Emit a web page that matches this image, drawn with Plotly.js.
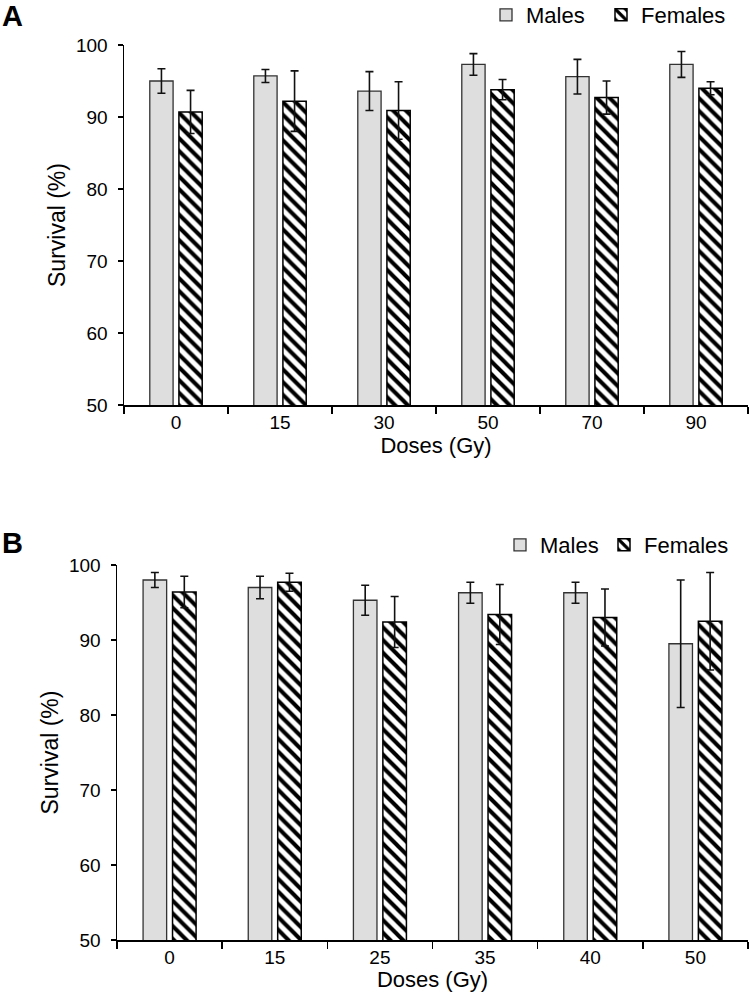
<!DOCTYPE html>
<html>
<head>
<meta charset="utf-8">
<script src="https://cdn.plot.ly/plotly-3.0.1.min.js"></script>
<style>html,body{margin:0;padding:0;background:#fff;}#chart{width:750px;height:992px;}</style>
</head>
<body>
<div id="chart"></div>
<script>
// Panel A data
const dosesA = ['0', '15', '30', '50', '70', '90'];
const malesA = [95.0, 95.7, 93.6, 97.3, 95.6, 97.3];
const malesAErr = [1.7, 0.9, 2.7, 1.5, 2.4, 1.8];
const femalesA = [90.7, 92.2, 90.9, 93.8, 92.7, 94.0];
const femalesAErr = [3.0, 4.2, 4.0, 1.4, 2.3, 0.9];

// Panel B data
const dosesB = ['0', '15', '25', '35', '40', '50'];
const malesB = [98.0, 97.0, 95.3, 96.3, 96.3, 89.5];
const malesBErr = [1.0, 1.5, 2.0, 1.4, 1.4, 8.5];
const femalesB = [96.4, 97.7, 92.4, 93.4, 93.0, 92.5];
const femalesBErr = [2.1, 1.2, 3.4, 4.0, 3.8, 6.5];

const seriesNames = ['Males', 'Females'];

const FONT = 'Liberation Sans, Arial, Helvetica, sans-serif';
const W = 750, H = 992;
const px = v => v / W;
const py = v => 1 - v / H;

const errStyle = arr => ({type: 'data', array: arr, visible: true, color: '#111', thickness: 1.6, width: 4});
const maleMarker = {color: '#dedede', line: {color: '#333', width: 1.3}};
const femaleMarker = {color: '#ffffff', line: {color: '#000', width: 1.5},
  pattern: {shape: '\\', fgcolor: '#000', bgcolor: '#ffffff', size: 9, solidity: 0.45}};

const traces = [
  {type: 'bar', name: seriesNames[0], x: dosesA, y: malesA, error_y: errStyle(malesAErr), marker: maleMarker, xaxis: 'x', yaxis: 'y', legend: 'legend'},
  {type: 'bar', name: seriesNames[1], x: dosesA, y: femalesA, error_y: errStyle(femalesAErr), marker: femaleMarker, xaxis: 'x', yaxis: 'y', legend: 'legend2'},
  {type: 'bar', name: seriesNames[0], x: dosesB, y: malesB, error_y: errStyle(malesBErr), marker: maleMarker, xaxis: 'x2', yaxis: 'y2', legend: 'legend3'},
  {type: 'bar', name: seriesNames[1], x: dosesB, y: femalesB, error_y: errStyle(femalesBErr), marker: femaleMarker, xaxis: 'x2', yaxis: 'y2', legend: 'legend4'}
];

const xCommon = {
  type: 'category', range: [-0.5, 5.5], showline: true, linecolor: '#000', linewidth: 1.5,
  ticks: 'outside', tickson: 'boundaries', ticklen: 7, tickwidth: 1.5, tickcolor: '#000',
  tickfont: {family: FONT, size: 19, color: '#000'}, showgrid: false, zeroline: false,
  automargin: false, fixedrange: true
};
const yCommon = {
  range: [50, 100], dtick: 10, tick0: 50, showline: true, linecolor: '#000', linewidth: 1.5,
  ticks: 'outside', ticklen: 5, tickwidth: 1.5, tickcolor: '#000',
  tickfont: {family: FONT, size: 19, color: '#000'}, showgrid: false, zeroline: false,
  automargin: false, fixedrange: true, ticklabelstandoff: 6
};
const xTitle = {text: 'Doses (Gy)', font: {family: FONT, size: 22, color: '#000'}, standoff: 4};
const yTitle = {text: 'Survival (%)', font: {family: FONT, size: 23, color: '#000'}, standoff: 4};

const legCommon = {
  orientation: 'h', xanchor: 'left', yanchor: 'middle', bgcolor: 'rgba(0,0,0,0)',
  font: {family: FONT, size: 22, color: '#000'}, itemclick: false, itemdoubleclick: false
};

const layout = {
  width: W, height: H,
  margin: {l: 0, r: 0, t: 0, b: 0, autoexpand: false},
  paper_bgcolor: '#fff', plot_bgcolor: '#fff',
  font: {family: FONT, color: '#000'},
  barmode: 'group', bargap: 0.44, bargroupgap: 0.2,
  xaxis: Object.assign({}, xCommon, {domain: [px(124), px(748)], anchor: 'y', title: xTitle}),
  yaxis: Object.assign({}, yCommon, {domain: [py(405), py(45)], anchor: 'x', title: yTitle}),
  xaxis2: Object.assign({}, xCommon, {domain: [px(117), px(748)], anchor: 'y2', title: xTitle}),
  yaxis2: Object.assign({}, yCommon, {domain: [py(940), py(565)], anchor: 'x2', title: yTitle}),
  legend: Object.assign({}, legCommon, {x: px(486), y: py(15)}),
  legend2: Object.assign({}, legCommon, {x: px(601), y: py(15)}),
  legend3: Object.assign({}, legCommon, {x: px(500), y: py(545)}),
  legend4: Object.assign({}, legCommon, {x: px(604), y: py(545)}),
  annotations: [
    {text: '<b>A</b>', xref: 'paper', yref: 'paper', x: 0, y: py(16), xanchor: 'left', yanchor: 'middle',
      showarrow: false, font: {family: FONT, size: 29, color: '#000'}},
    {text: '<b>B</b>', xref: 'paper', yref: 'paper', x: 0, y: py(543), xanchor: 'left', yanchor: 'middle',
      showarrow: false, font: {family: FONT, size: 29, color: '#000'}}
  ],
  showlegend: true
};

Plotly.newPlot('chart', traces, layout, {displayModeBar: false, staticPlot: true});
</script>
</body>
</html>
